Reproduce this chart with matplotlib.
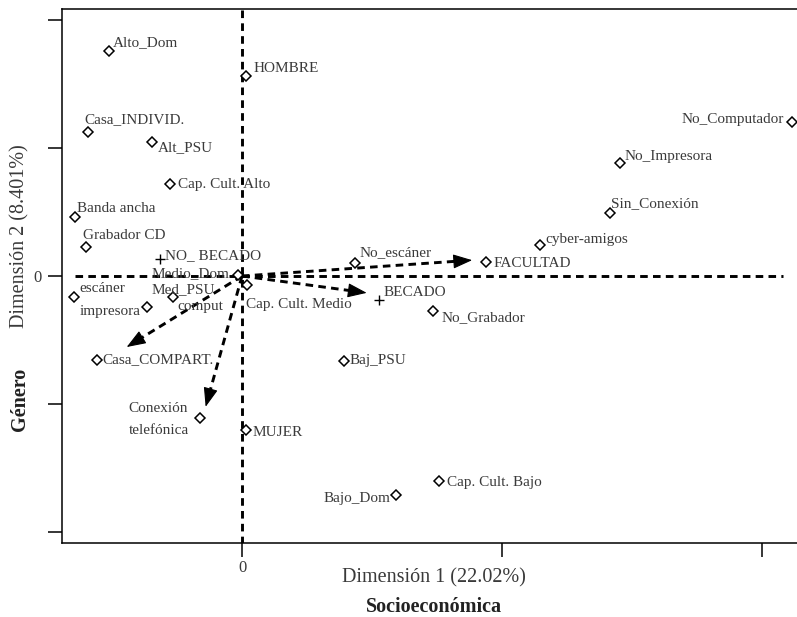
import numpy as np
import matplotlib.pyplot as plt

plt.rcParams["font.family"] = ["Liberation Serif", "DejaVu Serif"]

# category points (diamonds) on the two dimensions
cat_names = ["Alto_Dom", "HOMBRE", "Casa_INDIVID.", "Alt_PSU", "Cap. Cult. Alto",
             "Banda ancha", "Grabador CD", "Medio_Dom", "escáner", "impresora",
             "Med_PSU", "Cap. Cult. Medio", "Casa_COMPART.", "Conexión\ntelefónica",
             "MUJER", "Bajo_Dom", "Cap. Cult. Bajo", "Baj_PSU", "No_escáner",
             "No_Grabador", "FACULTAD", "cyber-amigos", "Sin_Conexión",
             "No_Impresora", "No_Computador"]
cat_x = [-0.256, 0.008, -0.297, -0.173, -0.139, -0.321, -0.301, -0.008, -0.323, -0.183,
         -0.133, 0.010, -0.280, -0.081, 0.008, 0.296, 0.379, 0.196, 0.218,
         0.368, 0.470, 0.574, 0.708, 0.728, 1.058]
cat_y = [0.441, 0.391, 0.282, 0.263, 0.180, 0.115, 0.057, 0.002, -0.042, -0.061,
         -0.042, -0.018, -0.164, -0.278, -0.301, -0.429, -0.401, -0.166, 0.025,
         -0.068, 0.028, 0.061, 0.123, 0.221, 0.302]

# supplementary points (plus)
sup_names = ["NO_ BECADO", "BECADO"]
sup_x = [-0.157, 0.264]
sup_y = [0.033, -0.047]

# label without a visible marker
extra_names = ["comput"]
extra_x = [-0.081]
extra_y = [-0.059]

# arrow tips (from origin)
arrow_x = [0.443, 0.240, -0.222, -0.070]
arrow_y = [0.031, -0.033, -0.139, -0.256]

# label placement (offset pixels, ha)
cat_off = {
    "Alto_Dom": (4, 8, "left"), "HOMBRE": (7, 8, "left"),
    "Casa_INDIVID.": (-3, 12, "left"), "Alt_PSU": (6, -6, "left"),
    "Cap. Cult. Alto": (8, 0, "left"), "Banda ancha": (2, 9, "left"),
    "Grabador CD": (-3, 11, "left"), "Medio_Dom": (-8, 1, "right"),
    "escáner": (5, 9, "left"), "impresora": (-6, -4, "right"),
    "Med_PSU": (-21, 8, "left"), "Cap. Cult. Medio": (-1, -19, "left"),
    "Casa_COMPART.": (6, 0, "left"), "Conexión\ntelefónica": (-11, -1, "right"),
    "MUJER": (6, -3, "left"), "Bajo_Dom": (-5, -3, "right"),
    "Cap. Cult. Bajo": (8, -2, "left"), "Baj_PSU": (6, 0, "left"),
    "No_escáner": (4, 11, "left"), "No_Grabador": (8, -7, "left"),
    "FACULTAD": (7, -2, "left"), "cyber-amigos": (5, 5, "left"),
    "Sin_Conexión": (1, 10, "left"), "No_Impresora": (4, 7, "left"),
    "No_Computador": (-8, 2, "right"),
}
sup_off = {"NO_ BECADO": (5, 4, "left"), "BECADO": (4, 8, "left")}

txt_color = "#3a3a3a"
dash = (0, (2.6, 1.8))
fs = 11

fig = plt.figure(figsize=(7.97, 6.17), dpi=100)
ax = fig.add_axes([62 / 797, 74 / 617, 1 - 62 / 797, (617 - 9 - 74) / 617])
ax.set_xlim(-0.3465, 1.0683)
ax.set_ylim(-0.5225, 0.5225)

# reference axes through origin
ax.plot([-0.321, 1.041], [0, 0], color="black", lw=2.1, ls=dash, zorder=1)
ax.plot([0, 0], [0.52, -0.5225], color="black", lw=2.1, ls=dash, zorder=1)

# arrows: dashed shaft + solid head
head_px = 17
for tx, ty in zip(arrow_x, arrow_y):
    p0 = ax.transData.transform((0, 0))
    p1 = ax.transData.transform((tx, ty))
    u = (p1 - p0) / np.hypot(*(p1 - p0))
    base = ax.transData.inverted().transform(p1 - u * (head_px - 2))
    ax.plot([0, base[0]], [0, base[1]], color="black", lw=2.1, ls=dash,
            dash_capstyle="butt", zorder=2)
    ax.annotate("", xy=(tx, ty), xytext=(-u[0] * head_px, -u[1] * head_px),
                textcoords="offset pixels",
                arrowprops=dict(arrowstyle="-|>,head_length=1.2,head_width=0.45",
                                mutation_scale=10, lw=0.8, color="black",
                                shrinkA=0, shrinkB=0),
                zorder=2)

ax.plot(cat_x, cat_y, ls="none", marker="D", ms=4.8, mfc="white",
        mec="black", mew=1.1, zorder=3)
ax.plot(sup_x, sup_y, ls="none", marker="+", ms=7, mec="black", mew=1.0, zorder=3)

for n, x, y in zip(cat_names, cat_x, cat_y):
    dx, dy, ha = cat_off[n]
    ax.annotate(n, (x, y), xytext=(dx, dy), textcoords="offset pixels",
                ha=ha, va="center", fontsize=fs, color=txt_color,
                linespacing=1.9, multialignment="left", zorder=4)
for n, x, y in zip(sup_names, sup_x, sup_y):
    dx, dy, ha = sup_off[n]
    ax.annotate(n, (x, y), xytext=(dx, dy), textcoords="offset pixels",
                ha=ha, va="center", fontsize=fs, color=txt_color, zorder=4)
for n, x, y in zip(extra_names, extra_x, extra_y):
    ax.annotate(n, (x, y), ha="center", va="center", fontsize=fs,
                color=txt_color, zorder=4)

ax.set_xticks([0, 0.5, 1.0])
ax.set_xticklabels(["0", "", ""])
ax.set_yticks([-0.5, -0.25, 0, 0.25, 0.5])
ax.set_yticklabels(["", "", "0", "", ""])
ax.tick_params(length=10, width=1.1, labelsize=12, labelcolor=txt_color, pad=5)
ax.tick_params(axis="x", pad=2)
for s in ["left", "top", "bottom"]:
    ax.spines[s].set_linewidth(1.1)
ax.spines["right"].set_visible(False)

fig.text(0.545, 0.063, "Dimensión 1 (22.02%)", ha="center", va="center",
         fontsize=14.5, color=txt_color)
fig.text(0.545, 0.016, "Socioeconómica", ha="center", va="center",
         fontsize=14.5, fontweight="bold", color="#222222")
fig.text(0.025, 0.6175, "Dimensión 2 (8.401%)", ha="center", va="center",
         rotation=90, fontsize=14.5, color=txt_color)
fig.text(0.025, 0.352, "Género", ha="center", va="center", rotation=90,
         fontsize=14.5, fontweight="bold", color="#222222")

fig.savefig("out.png", dpi=100)
